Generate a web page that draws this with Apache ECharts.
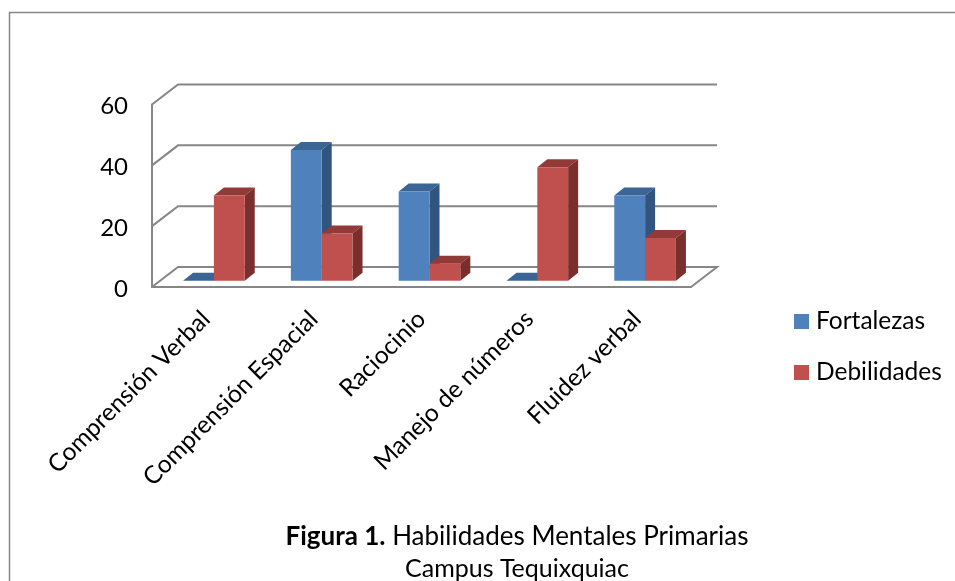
<!DOCTYPE html>
<html>
<head>
<meta charset="utf-8">
<style>html,body{margin:0;padding:0;background:#fff}#c{width:955px;height:581px}</style>
<script src="https://cdn.jsdelivr.net/npm/echarts@6/dist/echarts.min.js"></script>
</head>
<body>
<div id="c"></div>
<script>
const categories = ['Comprensión Verbal','Comprensión Espacial','Raciocinio','Manejo de números','Fluidez verbal'];
const fortalezas = [0,43,29.3,0,28];
const debilidades = [28,15.5,5.6,37.3,14];
const yTicks = [0,20,40,60];

const FONT = 'Lato, Carlito, "Open Sans", sans-serif';
const GRAY = '#868686';
const FLOOR = [26,-20], SHIFT = [8,-6.3], DEPTH = [10,-8], BAR = 0.286;

function box(side, front, sideC, top) {
  return function (params, api) {
    const p = api.coord([api.value(0), api.value(1)]);
    const base = api.coord([api.value(0), 0]);
    const w = api.size([1,0])[0] * BAR;
    const cx = p[0] + SHIFT[0];
    const x0 = side < 0 ? cx - w : cx, x1 = x0 + w;
    const yT = p[1] + SHIFT[1], yB = base[1] + SHIFT[1];
    const dx = DEPTH[0], dy = DEPTH[1];
    const ch = [];
    ch.push({type:'polygon',shape:{points:[[x0,yT],[x1,yT],[x1+dx,yT+dy],[x0+dx,yT+dy]]},style:{fill:top},silent:true});
    if (yB - yT > 0.5) {
      ch.push({type:'polygon',shape:{points:[[x1,yT],[x1+dx,yT+dy],[x1+dx,yB+dy],[x1,yB]]},style:{fill:sideC},silent:true});
      ch.push({type:'rect',shape:{x:x0,y:yT,width:w,height:yB-yT},style:{fill:front},silent:true});
    }
    return {type:'group',children:ch};
  };
}

function wall(params, api) {
  const c = params.coordSys;
  const y = api.coord([0, api.value(0)])[1];
  const l = c.x, r = c.x + c.width;
  const pts = [[l,y],[l+FLOOR[0],y+FLOOR[1]],[r+FLOOR[0],y+FLOOR[1]]];
  if (api.value(0) === 0) pts.push([r,y]);
  return {type:'polyline',shape:{points:pts},style:{fill:'none',stroke:GRAY,lineWidth:2}};
}

const chart = echarts.init(document.getElementById('c'), null, {renderer:'canvas'});
chart.setOption({
  animation:false,
  backgroundColor:'#fff',
  textStyle:{fontFamily:FONT},
  title:{
    left:512, top:516, textAlign:'center',
    text:'{b|Figura 1.}{r| Habilidades Mentales Primarias}\n{s|Campus Tequixquiac}',
    textStyle:{
      color:'#000', fontWeight:'normal', fontFamily:FONT, fontSize:25, lineHeight:32,
      rich:{
        b:{fontFamily:FONT,fontSize:26,fontWeight:'bold',color:'#000',lineHeight:32},
        r:{fontFamily:FONT,fontSize:26,fontWeight:'normal',color:'#000',lineHeight:32},
        s:{fontFamily:FONT,fontSize:25,fontWeight:'normal',color:'#000',lineHeight:32}
      }
    }
  },
  legend:{
    orient:'vertical', left:789, top:304, itemWidth:15, itemHeight:15, itemGap:26,
    icon:'rect', data:['Fortalezas','Debilidades'],
    textStyle:{fontFamily:FONT,fontSize:24.5,color:'#000',padding:[0,0,0,2]}
  },
  grid:{left:152,top:104.5,width:539,height:182.5,containLabel:false},
  xAxis:{
    type:'category', data:categories,
    axisLine:{show:true,lineStyle:{color:GRAY,width:2}},
    axisTick:{show:false},
    axisLabel:{rotate:45,interval:0,fontFamily:FONT,fontSize:24.5,color:'#000',margin:28}
  },
  yAxis:{
    type:'value', min:0, max:60, interval:20,
    axisLine:{show:true,lineStyle:{color:GRAY,width:2}},
    axisTick:{show:false},
    splitLine:{show:false},
    axisLabel:{fontFamily:FONT,fontSize:24,color:'#000',margin:24,verticalAlign:'top',padding:[-10,0,0,0]}
  },
  graphic:[
    {type:'polyline',shape:{points:[[9.5,581],[9.5,12.5],[955,12.5]]},style:{fill:'none',stroke:GRAY,lineWidth:1.5},silent:true}
  ],
  series:[
    {type:'custom',name:'wall',coordinateSystem:'cartesian2d',data:yTicks.map(v=>[v]),encode:{y:0},renderItem:wall,silent:true,z:1},
    {type:'custom',name:'Fortalezas',coordinateSystem:'cartesian2d',itemStyle:{color:'#4F81BD'},
     data:fortalezas.map((v,i)=>[i,v]),encode:{x:0,y:1},z:2,renderItem:box(-1,'#4F81BD','#32557F','#3B6594')},
    {type:'custom',name:'Debilidades',coordinateSystem:'cartesian2d',itemStyle:{color:'#C0504D'},
     data:debilidades.map((v,i)=>[i,v]),encode:{x:0,y:1},z:3,renderItem:box(1,'#C0504D','#7B2F2D','#923A38')}
  ]
});
</script>
</body>
</html>
